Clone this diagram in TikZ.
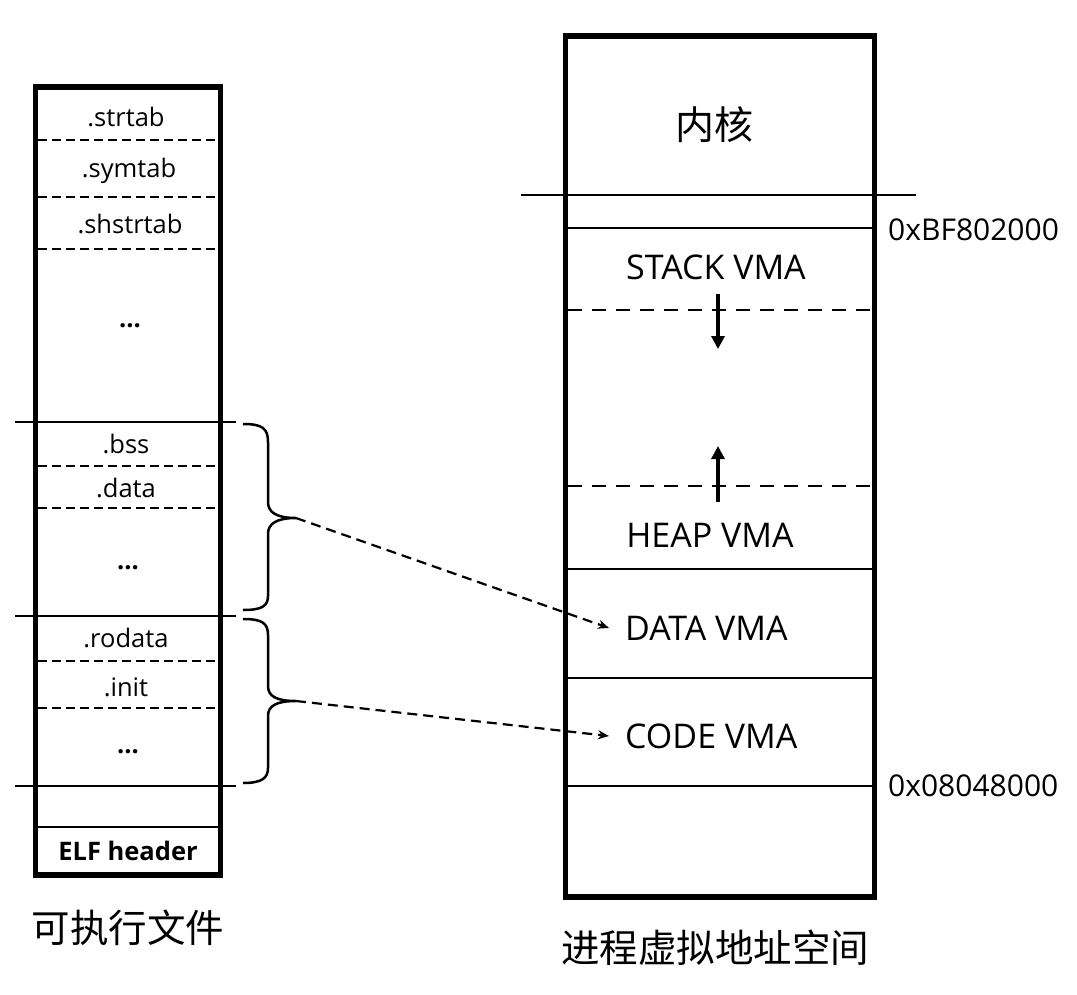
\documentclass[tikz,border=0pt]{standalone}
\usepackage{fontspec}
\setmainfont{Open Sans}
\newfontfamily\cjk{Noto Sans CJK SC}
\usetikzlibrary{arrows.meta}
\begin{document}
\begin{tikzpicture}[x=1pt,y=-1pt,
  boxline/.style={line width=5.5pt},
  solidsep/.style={line width=2.8pt},
  dashsepL/.style={line width=2.5pt,dash pattern=on 9pt off 5pt},
  dashsepR/.style={line width=2.5pt,dash pattern=on 14pt off 10pt},
  lbl/.style={font=\fontsize{25.5}{30}\selectfont, inner sep=0pt},
  boldlbl/.style={font=\fontsize{25.5}{30}\selectfont\bfseries, inner sep=0pt},
  vma/.style={font=\fontsize{34}{40}\selectfont, inner sep=0pt},
  addr/.style={font=\fontsize{30}{34}\selectfont, inner sep=0pt, anchor=west},
  captext/.style={font=\cjk\fontsize{38.5}{44}\selectfont, inner sep=0pt},
  maparrow/.style={line width=2.2pt,dash pattern=on 10pt off 6pt,-{Stealth[length=11pt,width=9pt]}},
  growarrow/.style={line width=4pt,-{Triangle[length=13pt,width=13pt]}},
  bracestyle/.style={line width=2.5pt}]
\useasboundingbox (0,0) rectangle (1077,994);
% ---------- left: executable file ----------
\draw[boxline] (35.5,87) rectangle (220.5,875);
\draw[dashsepL] (38,140) -- (218,140);
\draw[dashsepL] (38,197) -- (218,197);
\draw[dashsepL] (38,249) -- (218,249);
\draw[solidsep] (15,422) -- (236,422);
\draw[dashsepL] (38,466) -- (218,466);
\draw[dashsepL] (38,508) -- (218,508);
\draw[solidsep] (15,616) -- (236,616);
\draw[dashsepL] (38,661) -- (218,661);
\draw[dashsepL] (38,708) -- (218,708);
\draw[solidsep] (15,786) -- (236,786);
\draw[solidsep] (38,827) -- (218,827);
\node[lbl] (strtab) at (126,117) {.strtab};
\node[lbl] (symtab) at (129,171) {.symtab};
\node[lbl] (shstrtab) at (130,224) {.shstrtab};
\node[boldlbl] (dots1) at (130,326) {...};
\node[lbl] (bss) at (126,444) {.bss};
\node[lbl] (data) at (126,488) {.data};
\node[boldlbl] (dots2) at (128,568) {...};
\node[lbl] (rodata) at (126,638) {.rodata};
\node[lbl] (init) at (126,687) {.init};
\node[boldlbl] (dots3) at (128,752) {...};
\node[boldlbl] (elf) at (128,851) {ELF header};
\node[captext] (capL) at (128,928) {可执行文件};
% braces
\coordinate (tipA) at (296,518);
\coordinate (tipB) at (296,701);
\draw[bracestyle] (243,424) .. controls (262,424) and (268,428) .. (268,442)
  -- (268,502) .. controls (268,512) and (276,518) .. (tipA)
  .. controls (276,518) and (268,524) .. (268,534)
  -- (268,596) .. controls (268,606) and (262,610) .. (243,610);
\draw[bracestyle] (243,619) .. controls (262,619) and (268,623) .. (268,635)
  -- (268,686) .. controls (268,696) and (276,701) .. (tipB)
  .. controls (276,701) and (268,706) .. (268,716)
  -- (268,768) .. controls (268,778) and (262,783) .. (243,783);
% ---------- right: process virtual address space ----------
\draw[boxline] (565.5,36) rectangle (874.5,897);
\draw[solidsep] (521,195) -- (916,195);
\draw[solidsep] (568,228) -- (872,228);
\draw[dashsepR] (568,310) -- (872,310);
\draw[dashsepR] (568,486) -- (872,486);
\draw[solidsep] (568,569) -- (872,569);
\draw[solidsep] (568,678) -- (872,678);
\draw[solidsep] (568,786) -- (872,786);
\node[font=\cjk\fontsize{39}{44}\selectfont, inner sep=0pt] (kernel) at (714,125) {内核};
\node[vma] (stack) at (716,267) {STACK VMA};
\node[vma] (heap) at (710,535) {HEAP VMA};
\node[vma,anchor=west] (datavma) at (625,628) {DATA VMA};
\node[vma,anchor=west] (codevma) at (625,736) {CODE VMA};
\node[addr] (addrTop) at (888,230) {0xBF802000};
\node[addr] (addrBot) at (888,786) {0x08048000};
\node[captext] (capR) at (715,948) {进程虚拟地址空间};
\coordinate (sA) at (718,294);
\coordinate (sB) at (718,349);
\coordinate (hA) at (718,502);
\coordinate (hB) at (718,446);
\draw[growarrow] (sA) -- (sB);
\draw[growarrow] (hA) -- (hB);
% mapping arrows
\draw[maparrow] (tipA) -- ([xshift=-16pt]datavma.west);
\draw[maparrow] (tipB) -- ([xshift=-16pt]codevma.west);
\end{tikzpicture}
\end{document}
